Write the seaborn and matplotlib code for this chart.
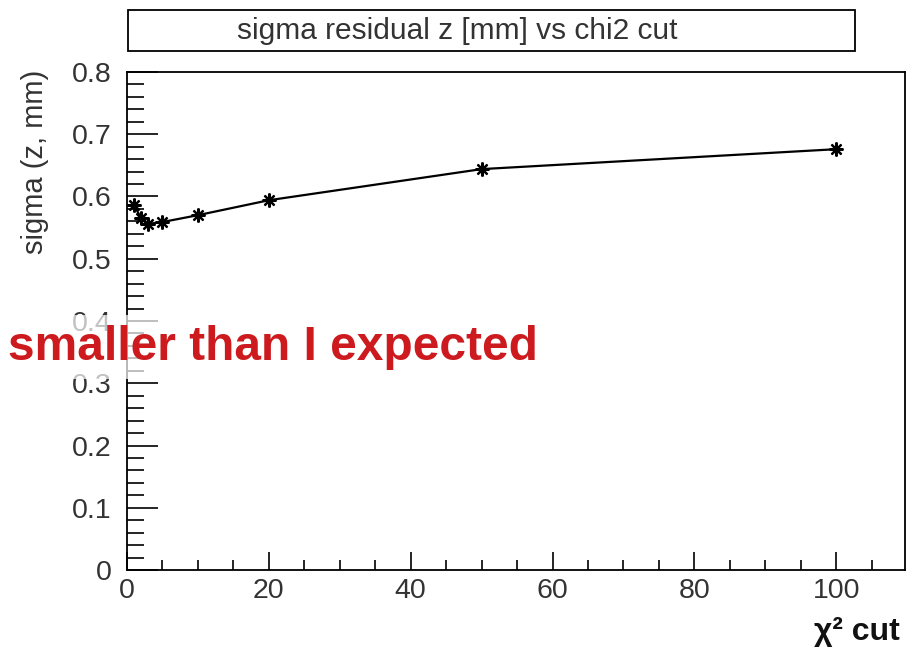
import matplotlib
matplotlib.use("Agg")
import matplotlib.pyplot as plt
from matplotlib.patches import Rectangle
from matplotlib.ticker import MultipleLocator
import pandas as pd
import seaborn as sns

chi2_cut = [1, 2, 3, 5, 10, 20, 50, 100]
sigma_z = [0.586, 0.565, 0.556, 0.559, 0.570, 0.594, 0.644, 0.676]

sns.set_theme(style="ticks")
plt.rcParams["font.family"] = ["Liberation Sans", "DejaVu Sans"]

df = pd.DataFrame({"chi2": chi2_cut, "sigma": sigma_z})

fig = plt.figure(figsize=(9.19, 6.51), dpi=100)
ax = fig.add_axes([127 / 919, 81 / 651, 778 / 919, 498 / 651])

sns.lineplot(data=df, x="chi2", y="sigma", ax=ax, color="black", linewidth=1.6,
             marker=(8, 2, 0), markersize=10, markeredgecolor="black",
             markeredgewidth=1.6)

ax.set_xlim(0, 109.7)
ax.set_ylim(0, 0.8)
ax.xaxis.set_major_locator(MultipleLocator(20))
ax.xaxis.set_minor_locator(MultipleLocator(5))
ax.yaxis.set_major_locator(MultipleLocator(0.1))
ax.yaxis.set_minor_locator(MultipleLocator(0.02))
ax.yaxis.set_major_formatter(matplotlib.ticker.FuncFormatter(
    lambda v, p: "0" if abs(v) < 1e-9 else f"{v:.1f}"))
ax.tick_params(which="both", direction="in", width=1.2, colors="black",
               labelsize=20.5, labelcolor="#333333")
ax.tick_params(axis="y", which="major", length=22, pad=11)
ax.tick_params(axis="y", which="minor", length=12)
ax.tick_params(axis="x", which="major", length=13, pad=6)
ax.tick_params(axis="x", which="minor", length=7)
for s in ax.spines.values():
    s.set_linewidth(1.3)
    s.set_color("black")

ax.set_xlabel("")
ax.set_ylabel("")
fig.text(900 / 919, 1 - 632 / 651, "χ² cut", ha="right", va="center",
         fontsize=23, fontweight="bold", color="#111111")
fig.text(35 / 919, 1 - 70 / 651, "sigma (z, mm)", rotation=90, ha="center",
         va="top", fontsize=21, color="#333333")

# title box
fig.patches.append(Rectangle((128 / 919, 1 - 51 / 651), 727 / 919, 41 / 651,
                             transform=fig.transFigure, facecolor="white",
                             edgecolor="black", linewidth=1.3))
fig.text(457 / 919, 1 - 31 / 651, "sigma residual z [mm] vs chi2 cut",
         ha="center", va="center", fontsize=21.5, color="#333333")

fig.text(8 / 919, 1 - 347 / 651, "smaller than I expected", ha="left",
         va="center", fontsize=34.5, fontweight="bold", color="#cc1a1f",
         bbox=dict(facecolor="white", edgecolor="none", alpha=0.7,
                   boxstyle="square,pad=0.2"))

fig.savefig("out.png", dpi=100)
